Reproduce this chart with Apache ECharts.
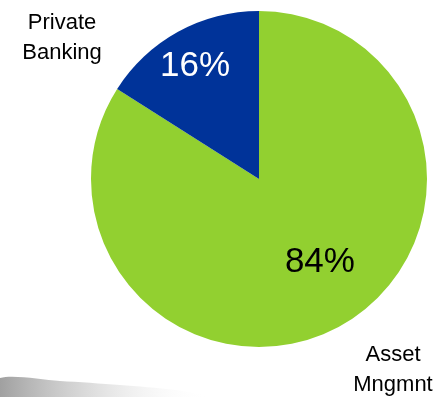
<!DOCTYPE html>
<html>
<head>
<meta charset="utf-8">
<script src="https://cdn.jsdelivr.net/npm/echarts@6/dist/echarts.min.js"></script>
<style>
  html, body { margin: 0; padding: 0; background: #ffffff; }
  #chart { width: 435px; height: 397px; }
</style>
</head>
<body>
<div id="chart"></div>
<script>
// Business split by segment (share of total, %)
const categories = ['Asset Mngmnt', 'Private Banking'];
const shares = [84, 16];
const sliceColors = ['#92d030', '#003399'];
const valueLabelColors = ['#000000', '#ffffff'];
const nameLabels = ['Asset\nMngmnt', 'Private\nBanking'];

const FONT = '"Liberation Sans", Arial, sans-serif';

const pieData = categories.map((name, i) => ({
  name: name,
  value: shares[i],
  itemStyle: { color: sliceColors[i] },
  label: { color: valueLabelColors[i] }
}));

// Fine offsets of the percentage labels from their default inside spot
const valueLabelShift = [[19, 7], [-22, -36]];
// Anchor points of the segment name captions
const nameLabelSpot = [[393, 370], [62, 38]];

const chart = echarts.init(document.getElementById('chart'), null, { renderer: 'canvas' });

chart.setOption({
  backgroundColor: '#ffffff',
  animation: false,
  graphic: [{
    type: 'polygon',
    silent: true,
    z: -1,
    shape: {
      points: [[0, 378], [60, 381], [120, 385], [175, 390], [210, 397], [0, 397]],
      smooth: 0.3
    },
    style: {
      fill: new echarts.graphic.LinearGradient(0, 0, 1, 0, [
        { offset: 0, color: 'rgba(140,140,140,0.85)' },
        { offset: 0.45, color: 'rgba(200,200,200,0.6)' },
        { offset: 1, color: 'rgba(255,255,255,0)' }
      ])
    }
  }],
  series: [
    {
      type: 'pie',
      center: [259, 179],
      radius: 168,
      startAngle: 90,
      clockwise: true,
      silent: true,
      data: pieData,
      label: {
        show: true,
        position: 'inside',
        formatter: p => p.value + '%',
        fontFamily: FONT,
        fontSize: 35
      },
      labelLine: { show: false },
      labelLayout: p => ({
        dx: valueLabelShift[p.dataIndex][0],
        dy: valueLabelShift[p.dataIndex][1]
      })
    },
    {
      type: 'pie',
      center: [259, 179],
      radius: 168,
      startAngle: 90,
      clockwise: true,
      silent: true,
      z: 3,
      data: categories.map((name, i) => ({
        name: name,
        value: shares[i],
        itemStyle: { color: 'rgba(0,0,0,0)' }
      })),
      label: {
        show: true,
        position: 'outside',
        alignTo: 'none',
        overflow: 'none',
        formatter: p => nameLabels[p.dataIndex],
        fontFamily: FONT,
        fontSize: 22,
        lineHeight: 30,
        color: '#000000',
        align: 'center'
      },
      labelLine: { show: false },
      labelLayout: p => ({
        x: nameLabelSpot[p.dataIndex][0],
        y: nameLabelSpot[p.dataIndex][1],
        align: 'center',
        verticalAlign: 'middle'
      })
    }
  ]
});
</script>
</body>
</html>
